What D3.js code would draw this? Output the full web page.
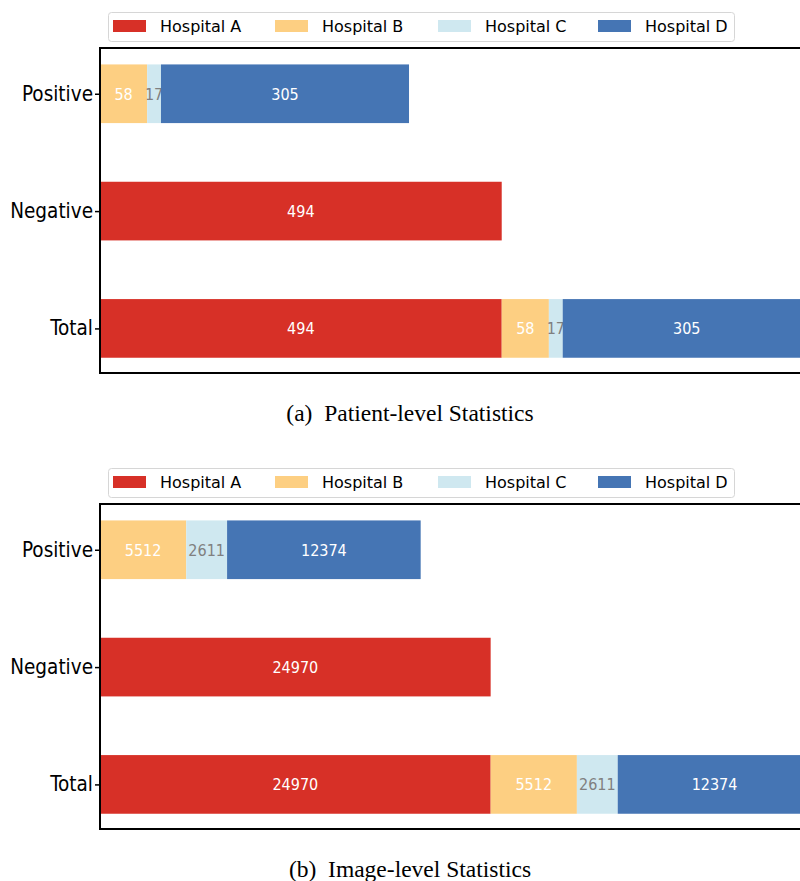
<!DOCTYPE html>
<html>
<head>
<meta charset="utf-8">
<script src="https://cdn.jsdelivr.net/npm/d3@7"></script>
<style>
  html, body { margin: 0; padding: 0; background: #fff; }
  svg { display: block; }
</style>
</head>
<body>
<svg id="chart" width="800" height="881"></svg>
<script>
// Categories (top to bottom) and hospitals (stack order)
const categories = ["Positive", "Negative", "Total"];
const hospitals = ["Hospital A", "Hospital B", "Hospital C", "Hospital D"];
const colors = ["#d73027", "#fdcf82", "#cfe8f0", "#4575b4"];
const labelColors = ["#ffffff", "#ffffff", "#808080", "#ffffff"];

// Patient-level counts per hospital, for each category
const patientA = [0, 494, 494];
const patientB = [58, 0, 58];
const patientC = [17, 0, 17];
const patientD = [305, 0, 305];

// Image-level counts per hospital, for each category
const imageA = [0, 24970, 24970];
const imageB = [5512, 0, 5512];
const imageC = [2611, 0, 2611];
const imageD = [12374, 0, 12374];

// Upper x limit of each panel
const xMaxPatient = 910;
const xMaxImage = 47300;

const captions = ["(a)  Patient-level Statistics", "(b)  Image-level Statistics"];

const svg = d3.select("#chart");

function drawPanel(top, series, xMax, caption) {
  const axLeft = 100, axWidth = 740;
  const axTop = top + 48, axBottom = top + 373;
  const g = svg.append("g");

  const x = d3.scaleLinear().domain([0, xMax]).range([axLeft, axLeft + axWidth]);
  const y = d3.scaleLinear().domain([-0.39, categories.length - 1 + 0.38]).range([axTop, axBottom]);
  const barH = y(0.5) - y(0);

  // Build stacked rows
  const rows = categories.map((c, i) => {
    const r = { cat: c, idx: i };
    hospitals.forEach((h, j) => r[h] = series[j][i]);
    return r;
  });
  const stacked = d3.stack().keys(hospitals)(rows);

  stacked.forEach((layer, j) => {
    const lg = g.append("g");
    lg.selectAll("rect").data(layer.filter(d => d[1] > d[0])).join("rect")
      .attr("x", d => x(d[0]))
      .attr("y", d => y(d.data.idx) - barH / 2)
      .attr("width", d => x(d[1]) - x(d[0]))
      .attr("height", barH)
      .attr("fill", colors[j]);
    lg.selectAll("text").data(layer.filter(d => d[1] > d[0])).join("text")
      .attr("x", d => (x(d[0]) + x(d[1])) / 2)
      .attr("y", d => y(d.data.idx))
      .attr("dy", "0.36em")
      .attr("text-anchor", "middle")
      .attr("font-family", "DejaVu Sans Condensed, DejaVu Sans")
      .attr("font-size", 16)
      .attr("fill", labelColors[j])
      .text(d => d[1] - d[0]);
  });

  // Frame
  g.append("line").attr("x1", axLeft).attr("x2", axLeft + axWidth).attr("y1", axTop).attr("y2", axTop)
    .attr("stroke", "#000").attr("stroke-width", 2);
  g.append("line").attr("x1", axLeft).attr("x2", axLeft + axWidth).attr("y1", axBottom).attr("y2", axBottom)
    .attr("stroke", "#000").attr("stroke-width", 2);
  g.append("line").attr("x1", axLeft).attr("x2", axLeft).attr("y1", axTop - 1).attr("y2", axBottom + 1)
    .attr("stroke", "#000").attr("stroke-width", 2);

  // Category axis
  const yAxis = d3.axisLeft(y)
    .tickValues(categories.map((c, i) => i))
    .tickFormat(i => categories[i])
    .tickSize(4).tickPadding(2);
  const ya = g.append("g").attr("transform", `translate(${axLeft - 1},0)`).call(yAxis);
  ya.select(".domain").remove();
  ya.selectAll(".tick line").attr("stroke", "#000").attr("stroke-width", 1.5);
  ya.selectAll(".tick text").attr("font-family", "DejaVu Sans Condensed, DejaVu Sans").attr("font-size", 20.5)
    .attr("fill", "#000");

  // Legend
  const lg = g.append("g").attr("transform", `translate(108,${top + 12})`);
  lg.append("rect").attr("x", 0.5).attr("y", 0.5).attr("width", 626).attr("height", 29)
    .attr("rx", 3).attr("fill", "#fff").attr("stroke", "#d6d6d6");
  const entryX = [5, 167, 330, 490];
  hospitals.forEach((h, j) => {
    lg.append("rect").attr("x", entryX[j]).attr("y", 8).attr("width", 33).attr("height", 12)
      .attr("fill", colors[j]);
    lg.append("text").attr("x", entryX[j] + 47).attr("y", 14).attr("dy", "0.36em")
      .attr("font-family", "DejaVu Sans").attr("font-size", 16).attr("fill", "#000").text(h);
  });

  // Caption
  g.append("text").attr("x", 410).attr("y", top + 421)
    .attr("text-anchor", "middle")
    .style("white-space", "pre")
    .attr("font-family", "Liberation Serif").attr("font-size", 23.5).attr("fill", "#000")
    .text(caption);
}

drawPanel(0, [patientA, patientB, patientC, patientD], xMaxPatient, captions[0]);
drawPanel(456, [imageA, imageB, imageC, imageD], xMaxImage, captions[1]);
</script>
</body>
</html>
